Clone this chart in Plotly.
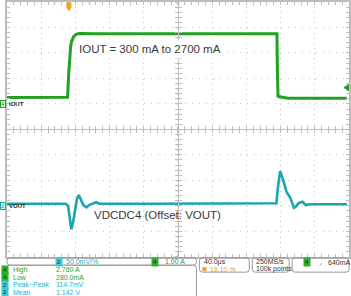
import plotly.graph_objects as go

W, H = 351, 296

# ---------------- data ----------------
time_per_div_us = 40.0
trigger_pos_pct = 18.10
iout_per_div_a = 1.0
vout_per_div_mv = 50.0

iout_time_us = [-72.4, -2.0, -1.5, -0.4, 0.8, 2.0, 3.1, 5.5, 9.0, 12.4, 30, 100, 200,
                243.3, 243.9, 244.6, 246.1, 250, 256.6, 325.0]
iout_amps = [0.25, 0.25, 0.26, 1.08, 1.86, 2.25, 2.44, 2.64, 2.74, 2.76, 2.75, 2.75, 2.75,
             2.75, 1.20, 0.30, 0.28, 0.25, 0.22, 0.22]

vout_time_us = [-72.4, -3.8, -0.9, 0.8, 2.8, 4.9, 7.2, 9.5, 11.6, 14.2, 17.1, 20.6, 24.1,
                31.9, 35.7, 93.8, 242.7, 244.4, 247.0, 250.0, 252.0, 254.6, 258.6, 260.9,
                263.3, 265.9, 268.3, 273.3, 277.2, 281.1, 285.7, 325.3]
vout_dev_mv = [4, 4, 0, -18, -46, -32, -5, 14, 21, 12, 1, -3, 2,
               7, 4, 4, 5, 35, 68, 54, 40, 27, 17, 6,
               -4, -1, 5, 8, 1, 3, 3, 3]

trigger_level_a = 0.64

meas_labels = ["High", "Low", "Peak−Peak", "Mean"]
meas_values = ["2.760 A", "280.0mA", "114.7mV", "1.142 V"]
meas_channels = ["4", "4", "2", "2"]

# ---------------- derived axis ranges ----------------
t_left = -trigger_pos_pct / 100 * 10 * time_per_div_us
t_right = t_left + 10 * time_per_div_us
iout_range = [-6 * iout_per_div_a, 4 * iout_per_div_a]
vout_range = [-2 * vout_per_div_mv, 8 * vout_per_div_mv]

GREEN = "#22a022"
CYAN = "#1aa6ad"
CYAN_TXT = "#1fb4c4"
GREEN_TXT = "#2e9e2e"
ORANGE = "#f0a020"
GRID = "#c4c4c4"
AX = "#bdbdbd"
FONT = "Liberation Sans, Arial, sans-serif"

X0, X1 = 7 / W, 350 / W
Y0, Y1 = 1 - 256.5 / H, 1.0
XC = (X0 + X1) / 2
YC = (Y0 + Y1) / 2


def px(x):
    return x / W


def py(y):
    return 1 - y / H


fig = go.Figure()
fig.add_trace(go.Scatter(x=iout_time_us, y=iout_amps, mode="lines",
                         line=dict(color=GREEN, width=3), xaxis="x", yaxis="y",
                         hoverinfo="skip"))
fig.add_trace(go.Scatter(x=vout_time_us, y=vout_dev_mv, mode="lines",
                         line=dict(color=CYAN, width=2.6), xaxis="x", yaxis="y2",
                         hoverinfo="skip"))
# empty traces to register the centre-tick axes
for xa, ya in [("x2", "y"), ("x3", "y"), ("x", "y3"), ("x", "y4")]:
    fig.add_trace(go.Scatter(x=[], y=[], xaxis=xa, yaxis=ya, showlegend=False))

tick_common = dict(showticklabels=False, zeroline=False, ticklen=3, tickcolor=AX,
                   tickwidth=1)

fig.update_layout(
    width=W, height=H, margin=dict(l=0, r=0, t=0, b=0),
    paper_bgcolor="white", plot_bgcolor="white", showlegend=False,
    xaxis=dict(domain=[X0, X1], range=[t_left, t_right], tick0=t_left,
               dtick=time_per_div_us, showgrid=True, gridcolor=GRID,
               griddash="1px,4.1px", showline=True, linecolor=AX, linewidth=1.5,
               mirror="allticks", ticks="inside",
               minor=dict(tick0=t_left, dtick=time_per_div_us / 5, ticks="inside",
                          ticklen=3, tickcolor=AX, showgrid=False),
               **tick_common),
    yaxis=dict(domain=[Y0, Y1], range=iout_range, dtick=iout_per_div_a,
               showgrid=True, gridcolor=GRID, griddash="1px,5.86px",
               showline=True, linecolor=AX, linewidth=1.5, mirror="allticks",
               ticks="inside",
               minor=dict(dtick=iout_per_div_a / 5, ticks="inside", ticklen=3,
                          tickcolor=AX, showgrid=False),
               **tick_common),
    yaxis2=dict(overlaying="y", range=vout_range, visible=False),
    xaxis2=dict(overlaying="x", anchor="free", position=YC, range=[t_left, t_right],
                tick0=t_left, dtick=time_per_div_us, showgrid=False, showline=True,
                linecolor=AX, linewidth=1, ticks="outside",
                minor=dict(tick0=t_left, dtick=time_per_div_us / 5, ticks="outside",
                           ticklen=3, tickcolor=AX),
                **tick_common),
    xaxis3=dict(overlaying="x", anchor="free", position=YC, range=[t_left, t_right],
                tick0=t_left, dtick=time_per_div_us, showgrid=False, showline=False,
                ticks="inside",
                minor=dict(tick0=t_left, dtick=time_per_div_us / 5, ticks="inside",
                           ticklen=3, tickcolor=AX),
                **tick_common),
    yaxis3=dict(overlaying="y", anchor="free", position=XC, range=iout_range,
                dtick=iout_per_div_a, showgrid=False, showline=True, linecolor=AX,
                linewidth=1, ticks="outside",
                minor=dict(dtick=iout_per_div_a / 5, ticks="outside", ticklen=3,
                           tickcolor=AX),
                **tick_common),
    yaxis4=dict(overlaying="y", anchor="free", position=XC, range=iout_range,
                dtick=iout_per_div_a, showgrid=False, showline=False, ticks="inside",
                minor=dict(dtick=iout_per_div_a / 5, ticks="inside", ticklen=3,
                           tickcolor=AX),
                **tick_common),
)

ann = []
shapes = []

# in-plot captions
ann.append(dict(text="IOUT = 300 mA to 2700 mA", x=px(150.5), y=py(47.5), xref="paper",
                yref="paper", xanchor="center", yanchor="middle", showarrow=False,
                font=dict(family=FONT, size=11.5, color="#3a3a3a"),
                bgcolor="white", borderpad=3))
ann.append(dict(text="VDCDC4 (Offset: VOUT)", x=px(157.5), y=py(214.5), xref="paper",
                yref="paper", xanchor="center", yanchor="middle", showarrow=False,
                font=dict(family=FONT, size=11.5, color="#3a3a3a")))

# channel ground markers on the left
ann.append(dict(text="4", x=px(3), y=0, xref="paper", yref="y", showarrow=False,
                xanchor="center", yanchor="middle",
                font=dict(family=FONT, size=6, color=GREEN), bgcolor="#d8f0d8",
                bordercolor=GREEN, borderwidth=1, borderpad=0))
ann.append(dict(text="<b>IOUT</b>", x=px(7.5), y=0, xref="paper", yref="y",
                xanchor="left", yanchor="middle", showarrow=False,
                font=dict(family=FONT, size=6, color="#222")))
ann.append(dict(text="2", x=px(3), y=0, xref="paper", yref="y2", showarrow=False,
                xanchor="center", yanchor="middle",
                font=dict(family=FONT, size=6, color=CYAN), bgcolor="#d0f0f2",
                bordercolor=CYAN, borderwidth=1, borderpad=0))
ann.append(dict(text="<b>VOUT</b>", x=px(7.5), y=0, xref="paper", yref="y2",
                xanchor="left", yanchor="middle", showarrow=False,
                font=dict(family=FONT, size=6, color="#222")))

# trigger position marker (top) and trigger level marker (right)
shapes.append(dict(type="path", xref="x", yref="paper",
                   path=f"M -2.6,{py(0.5)} L 2.6,{py(0.5)} L 2.6,{py(5.5)} L 0,{py(9)} "
                        f"L -2.6,{py(5.5)} Z",
                   fillcolor=ORANGE, line=dict(color=ORANGE, width=0.5)))
shapes.append(dict(type="path", xref="paper", yref="y",
                   path=f"M {px(345)},{trigger_level_a} L {px(349.5)},{trigger_level_a + 0.12} "
                        f"L {px(349.5)},{trigger_level_a - 0.12} Z",
                   fillcolor=GREEN, line=dict(color=GREEN, width=1)))


def rrect(x0, y0, x1, y1, r=3):
    rx, ry = r / W, r / H
    a0, a1 = px(x0), px(x1)
    b0, b1 = py(y0), py(y1)
    return (f"M {a0 + rx},{b0} L {a1 - rx},{b0} Q {a1},{b0} {a1},{b0 - ry} "
            f"L {a1},{b1 + ry} Q {a1},{b1} {a1 - rx},{b1} L {a0 + rx},{b1} "
            f"Q {a0},{b1} {a0},{b1 + ry} L {a0},{b0 - ry} Q {a0},{b0} {a0 + rx},{b0} Z")


for box in [(7, 257.5, 197, 265), (7, 265, 197, 300), (200, 257.5, 250, 272),
            (253, 257.5, 290, 272), (293, 257.5, 350, 272)]:
    shapes.append(dict(type="path", xref="paper", yref="paper", path=rrect(*box),
                       line=dict(color="#9a9a9a", width=1)))


def txt(s, x, y, color="#333", size=7, anchor="left", **kw):
    ann.append(dict(text=s, x=px(x), y=py(y), xref="paper", yref="paper",
                    xanchor=anchor, yanchor="middle", showarrow=False,
                    font=dict(family=FONT, size=size, color=color), **kw))


def badge(s, x, y, color):
    ann.append(dict(text=s, x=px(x), y=py(y), xref="paper", yref="paper",
                    xanchor="center", yanchor="middle", showarrow=False,
                    font=dict(family=FONT, size=6, color="#1a3a1a"),
                    bgcolor=color, borderpad=1))


# channel scale row
badge("2", 59, 261.5, "#3cc8d4")
txt("50.0mV/%", 64, 261.5, CYAN_TXT)
badge("4", 155, 261.5, "#2ab02a")
txt("1.00 A", 163, 261.5, GREEN_TXT)

# measurement rows
row_y = [269.5, 277, 284.5, 292]
for ch, lab, val, yy in zip(meas_channels, meas_labels, meas_values, row_y):
    col = GREEN_TXT if ch == "4" else CYAN_TXT
    bcol = "#2ab02a" if ch == "4" else "#3cc8d4"
    badge(ch, 5, yy, bcol)
    txt(lab, 11, yy, col)
    txt(val, 54, yy, col)

# horizontal / acquisition / trigger boxes
txt("40.0µs", 203, 261.5)
shapes.append(dict(type="rect", xref="paper", yref="paper", x0=px(203), x1=px(207),
                   y0=py(271), y1=py(267), fillcolor=ORANGE, line=dict(width=0)))
txt("18.10 %", 209, 269, ORANGE)
txt("250MS/s", 255, 261.5)
txt("100k points", 255, 269)
badge("4", 308, 262, "#2ab02a")
txt("⸝", 318, 262, "#333")
txt("640mA", 327, 262)

fig.update_layout(annotations=ann, shapes=shapes)
fig.write_html("out.html")
